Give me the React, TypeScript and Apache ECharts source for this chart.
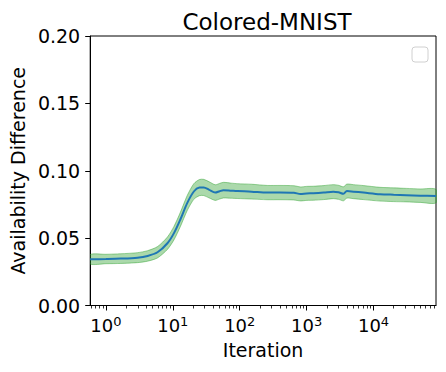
import React, { useEffect, useRef } from "react";
import * as echarts from "echarts";

const titleText = "Colored-MNIST";
const xAxisName = "Iteration";
const yAxisName = "Availability Difference";

const iterations = [
  0.58, 1, 1.67, 2.96, 4.2, 5.9, 8.3, 10.4, 13, 16.4, 20.6, 25, 29, 35, 43, 50, 57, 75, 93, 150,
  258, 400, 645, 810, 1000, 1260, 1800, 2500, 3000, 3550, 4000, 5000, 7080, 12500, 20000, 31000,
  50000, 86000,
];
const meanValues = [
  0.0343, 0.0345, 0.0348, 0.0355, 0.0368, 0.0395, 0.0462, 0.0537, 0.064, 0.076, 0.0846, 0.0875,
  0.0876, 0.0858, 0.0838, 0.0848, 0.0856, 0.0852, 0.0849, 0.0845, 0.0838, 0.0838, 0.0836, 0.0828,
  0.0832, 0.0833, 0.0838, 0.0845, 0.084, 0.0829, 0.0849, 0.0845, 0.0838, 0.0826, 0.0822, 0.0819,
  0.0815, 0.0812,
];
const stdValues = [
  0.0035, 0.0035, 0.0036, 0.0037, 0.0039, 0.0042, 0.0046, 0.005, 0.0053, 0.0056, 0.0058, 0.006,
  0.006, 0.006, 0.0058, 0.0058, 0.0058, 0.0056, 0.0055, 0.0055, 0.0053, 0.0053, 0.0053, 0.0052,
  0.0052, 0.0052, 0.0052, 0.0052, 0.0052, 0.0052, 0.0052, 0.0052, 0.0052, 0.0051, 0.0051, 0.005,
  0.005, 0.005,
];
const xMinIter = 0.582;
const xMaxIter = 85900;
const xMajorExponents = [0, 1, 2, 3, 4];
const yMin = 0;
const yMax = 0.2;
const yInterval = 0.05;

const FONT = "DejaVu Sans";

export default function App() {
  const ref = useRef<HTMLDivElement>(null);
  useEffect(() => {
    if (!ref.current) return;
    const chart = echarts.init(ref.current, undefined, { renderer: "svg" });
    const lx = iterations.map((v) => Math.log10(v));
    const bandData = lx.map((x, i) => [x, meanValues[i] - stdValues[i], meanValues[i] + stdValues[i]]);
    const mean = lx.map((x, i) => [x, meanValues[i]]);
    const xmin = Math.log10(xMinIter);
    const xmax = Math.log10(xMaxIter);
    const minor: number[] = [];
    for (let n = -1; n <= 4; n++) {
      for (let k = 2; k <= 9; k++) {
        const v = Math.log10(k * Math.pow(10, n));
        if (v >= xmin && v <= xmax) minor.push(v);
      }
    }
    chart.setOption({
      animation: false,
      textStyle: { fontFamily: FONT },
      title: {
        text: titleText,
        left: 262,
        textAlign: "center",
        top: 5,
        textStyle: { fontFamily: FONT, fontSize: 23, fontWeight: "normal", color: "#000" },
      },
      grid: {
        left: 88,
        right: 10,
        top: 36,
        bottom: 66.5,
        show: true,
        borderColor: "#000",
        borderWidth: 1,
        backgroundColor: "transparent",
      },
      xAxis: [
        {
          type: "value",
          min: xmin,
          max: xmax,
          name: xAxisName,
          nameLocation: "middle",
          nameGap: 35,
          nameTextStyle: { fontFamily: FONT, fontSize: 19, color: "#000" },
          axisLine: { show: true, onZero: false, lineStyle: { color: "#000", width: 1 } },
          axisTick: {
            show: true,
            length: 5,
            customValues: xMajorExponents,
            lineStyle: { color: "#000", width: 1 },
          },
          axisLabel: {
            show: true,
            customValues: xMajorExponents,
            margin: 9,
            color: "#000",
            fontFamily: FONT,
            fontSize: 18,
            formatter: (v: number) => "10{s|" + Math.round(v) + "}",
            rich: {
              s: { fontSize: 13, fontFamily: FONT, color: "#000", verticalAlign: "top", padding: [0, 0, 8, 0] },
            },
          },
          splitLine: { show: false },
        },
        {
          type: "value",
          min: xmin,
          max: xmax,
          position: "bottom",
          axisLine: { show: false, onZero: false },
          axisTick: {
            show: true,
            length: 3,
            customValues: minor,
            lineStyle: { color: "#000", width: 0.8 },
          },
          axisLabel: { show: false },
          splitLine: { show: false },
        },
      ],
      yAxis: {
        type: "value",
        min: yMin,
        max: yMax,
        interval: yInterval,
        name: yAxisName,
        nameLocation: "middle",
        nameGap: 60,
        nameTextStyle: { fontFamily: FONT, fontSize: 19, color: "#000" },
        axisLine: { show: true, onZero: false, lineStyle: { color: "#000", width: 1 } },
        axisTick: { show: true, length: 5, lineStyle: { color: "#000", width: 1 } },
        axisLabel: {
          margin: 10,
          color: "#000",
          fontFamily: FONT,
          fontSize: 19,
          formatter: (v: number) => v.toFixed(2),
        },
        splitLine: { show: false },
      },
      series: [
        {
          type: "custom",
          xAxisIndex: 0,
          data: bandData,
          encode: { x: 0, y: [1, 2] },
          clip: true,
          z: 2,
          renderItem: (params: any, api: any) => {
            if (params.dataIndex !== 0) return null;
            const upper = bandData.map((d) => api.coord([d[0], d[2]]));
            const lowerPts = bandData.map((d) => api.coord([d[0], d[1]])).reverse();
            return {
              type: "group",
              children: [
                {
                  type: "polygon",
                  shape: { points: upper.concat(lowerPts), smooth: 0.25 },
                  style: { fill: "rgba(44,160,44,0.4)", stroke: "rgba(44,160,44,0.45)", lineWidth: 1 },
                },
              ],
            };
          },
        },
        {
          type: "line",
          xAxisIndex: 0,
          data: mean,
          symbol: "none",
          smooth: 0.3,
          lineStyle: { color: "#1f77b4", width: 2 },
          z: 3,
        },
      ],
      graphic: [
        {
          type: "rect",
          shape: { x: 412, y: 47, width: 16, height: 15, r: 3 },
          style: { fill: "rgba(255,255,255,0.8)", stroke: "#d0d0d0", lineWidth: 1 },
          z: 10,
        },
      ],
    });
    return () => chart.dispose();
  }, []);
  return <div ref={ref} style={{ width: 446, height: 372, position: "absolute", left: 0, top: 0 }} />;
}
